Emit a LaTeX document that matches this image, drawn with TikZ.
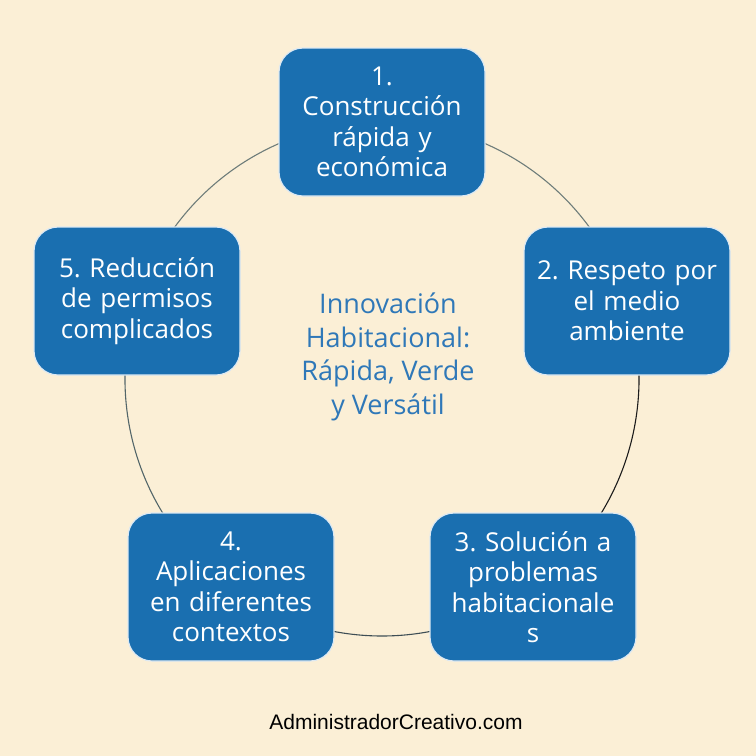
\documentclass[tikz,border=0pt]{standalone}
\usepackage{fontspec}
\setmainfont{Open Sans}
\newfontfamily\footfont{Liberation Sans}
\definecolor{bgc}{HTML}{FBEFD6}
\definecolor{boxc}{HTML}{1A6FB0}
\definecolor{ctext}{HTML}{2F78B8}
\definecolor{arcA}{HTML}{6E7D7A}
\definecolor{arcB}{HTML}{1C1C1C}
\definecolor{arcC}{HTML}{3E4E55}
\definecolor{arcD}{HTML}{536669}
\frenchspacing
\tikzset{
  stepbox/.style={rectangle, rounded corners=24pt, fill=boxc, draw=white!85!boxc, line width=1.2pt,
    minimum width=206pt, minimum height=148pt, text width=200pt, align=center, text=white,
    font=\fontsize{26}{30.5}\selectfont, inner sep=0pt},
  ring/.style={line width=1.1pt}
}
\begin{document}
\begin{tikzpicture}[x=1pt,y=1pt]
\fill[bgc] (0,0) rectangle (756,-756);
\useasboundingbox (0,0) rectangle (756,-756);
\coordinate (c) at (382,-379);
\draw[ring, arcA] ([shift={(162:257)}]c) arc (162:90:257);
\draw[ring, arcA] ([shift={(90:257)}]c) arc (90:18:257);
\draw[ring, arcB] ([shift={(18:257)}]c) arc (18:-54:257);
\draw[ring, arcC] ([shift={(-54:257)}]c) arc (-54:-126:257);
\draw[ring, arcD] ([shift={(-126:257)}]c) arc (-126:-198:257);
\node[stepbox] (b1) at (382,-122) {1.\\Construcción\\rápida y\\económica};
\node[stepbox] (b2) at (627,-301) {2. Respeto por\\el medio\\ambiente};
\node[stepbox] (b3) at (533,-587) {3. Solución a\\problemas\\habitacionale\\s};
\node[stepbox] (b4) at (231,-587) {4.\\Aplicaciones\\en diferentes\\contextos};
\node[stepbox] (b5) at (137,-301) {5. Reducción\\de permisos\\complicados};
\node[align=center, text=ctext, font=\fontsize{27}{33.5}\selectfont] (ct) at (388,-357) {Innovación\\Habitacional:\\Rápida, Verde\\y Versátil};
\node[font=\footfont\fontsize{21}{23}\selectfont, text=black] (ft) at (396,-722) {AdministradorCreativo.com};
\end{tikzpicture}
\end{document}
